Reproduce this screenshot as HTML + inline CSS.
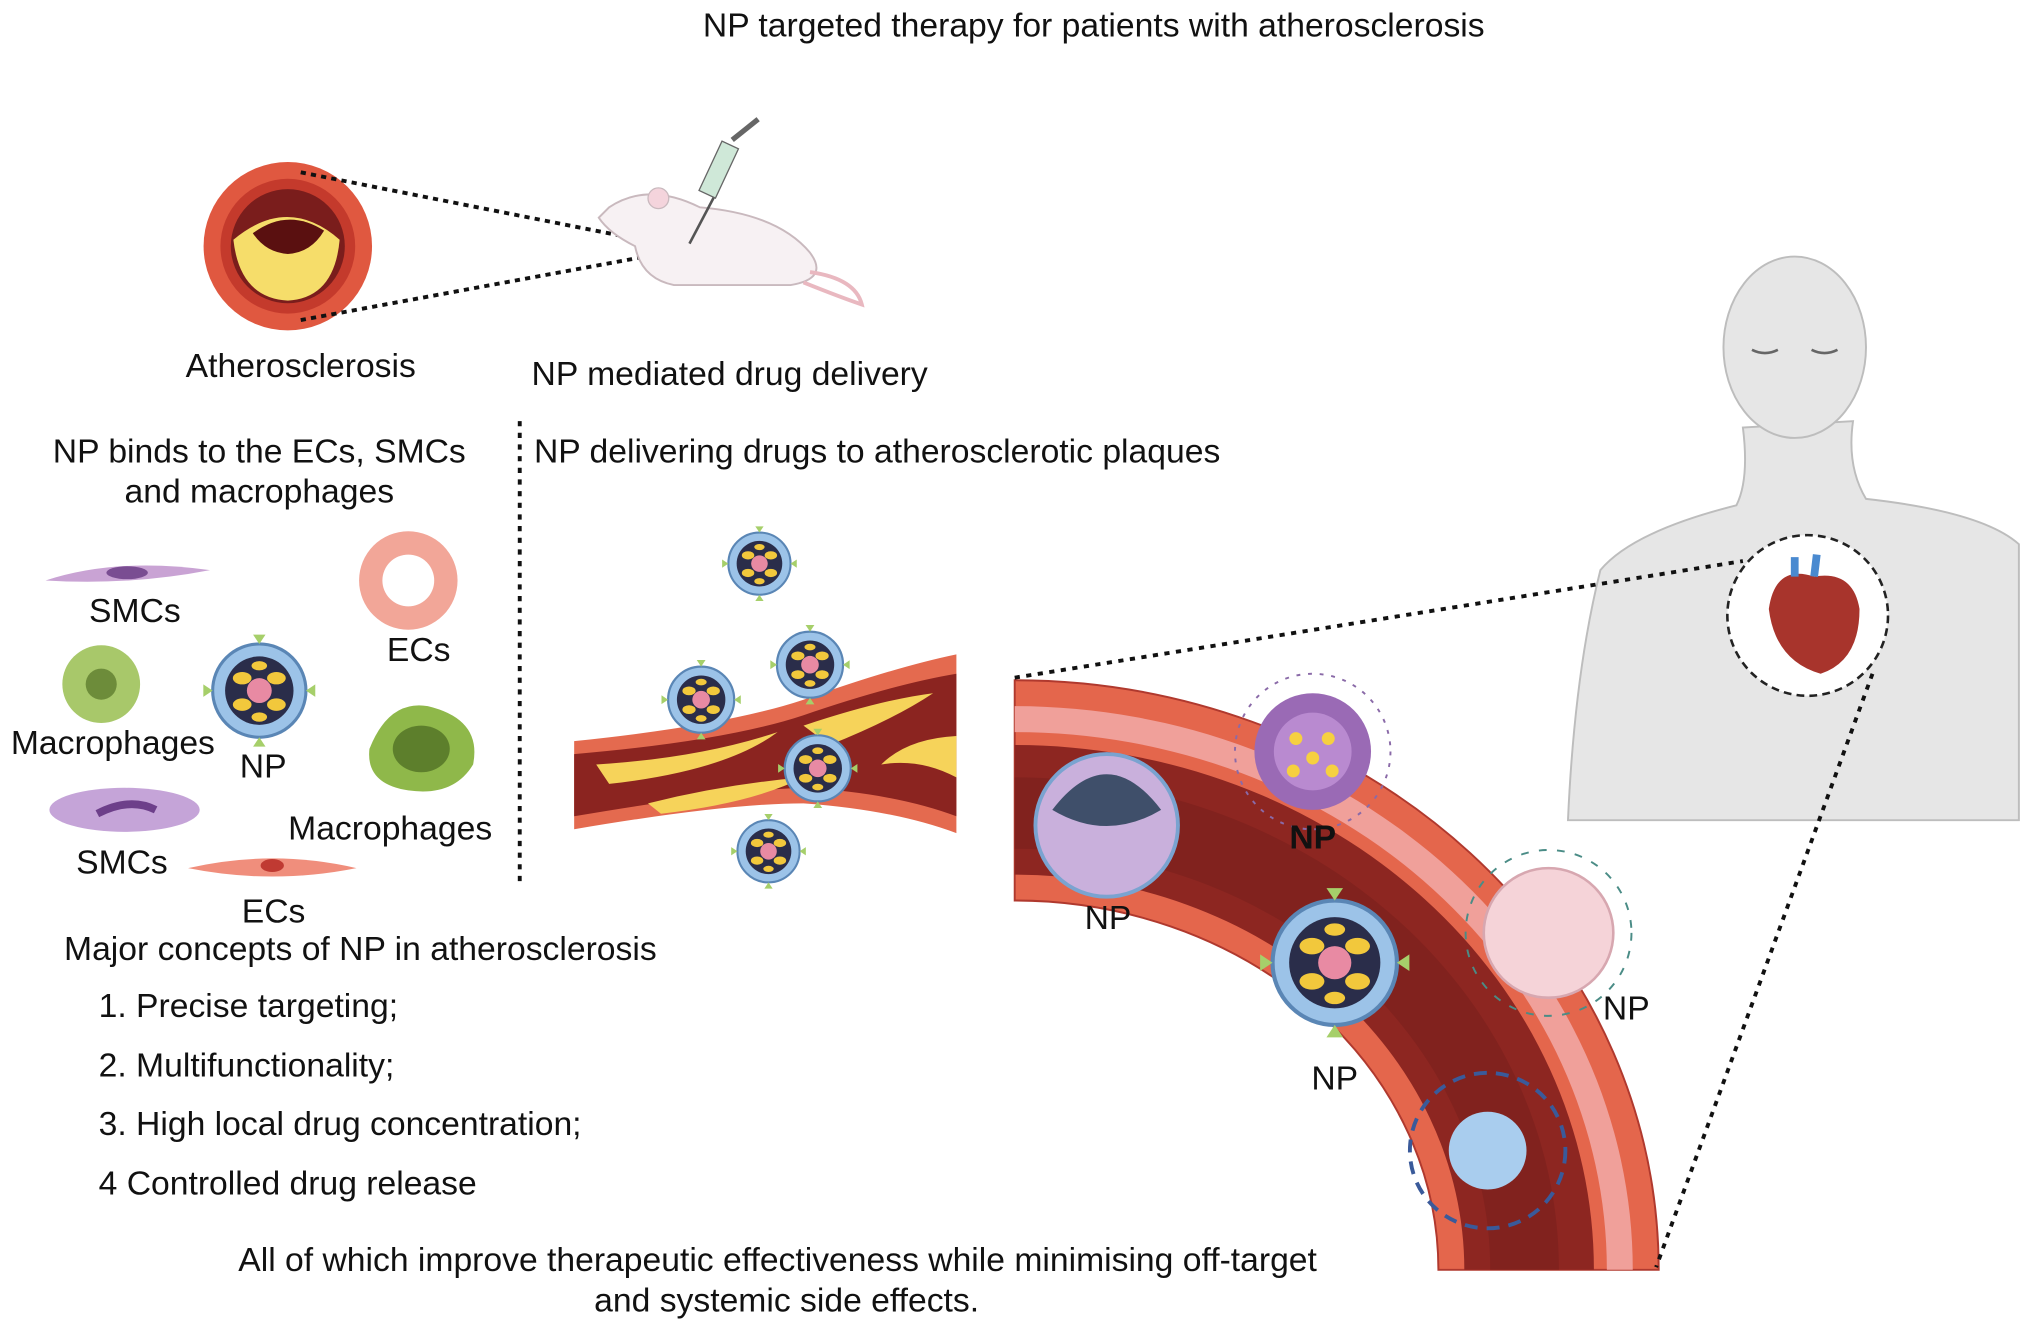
<!DOCTYPE html>
<html><head><meta charset="utf-8"><style>
html,body{margin:0;padding:0;background:#fff;}
svg{display:block;}
text{font-family:"Liberation Sans",Arial,sans-serif;fill:#111;}
</style></head><body>
<svg width="2032" height="1332" viewBox="0 0 1568 1028" xmlns="http://www.w3.org/2000/svg">
<defs>
<g id="np">
 <circle r="30" fill="#9cc3e8" stroke="#5a86b5" stroke-width="2"/>
 <circle r="22" fill="#2a2d4a"/>
 <ellipse cx="-11" cy="-8" rx="6" ry="4" fill="#f2c83c"/>
 <ellipse cx="11" cy="-8" rx="6" ry="4" fill="#f2c83c"/>
 <ellipse cx="-11" cy="9" rx="6" ry="4" fill="#f2c83c"/>
 <ellipse cx="11" cy="9" rx="6" ry="4" fill="#f2c83c"/>
 <ellipse cx="0" cy="-16" rx="5" ry="3" fill="#f2c83c"/>
 <ellipse cx="0" cy="17" rx="5" ry="3" fill="#f2c83c"/>
 <circle r="8" fill="#e88aa3"/>
 <path d="M-30 0l-6 -4v8zM30 0l6 -4v8zM0 -30l-4 -6h8zM0 30l-4 6h8z" fill="#a6cf6a"/>
</g>
</defs>

<text x="844" y="28" text-anchor="middle" font-size="26">NP targeted therapy for patients with atherosclerosis</text>

<circle cx="222" cy="190" r="65" fill="#e05840"/>
<circle cx="222" cy="190" r="52" fill="#c43a2c"/>
<circle cx="222" cy="190" r="44" fill="#7a1d1c"/>
<path d="M180 185 Q222 150 262 185 Q258 230 222 232 Q185 230 180 185Z" fill="#f6dd6a"/>
<path d="M195 180 Q222 160 250 178 Q240 195 222 196 Q205 195 195 180Z" fill="#5a1010"/>
<line x1="232" y1="133" x2="520" y2="190" stroke="#111" stroke-width="3" stroke-dasharray="4,4"/>
<line x1="232" y1="247" x2="520" y2="194" stroke="#111" stroke-width="3" stroke-dasharray="4,4"/>

<path d="M470 160 Q500 140 540 160 Q600 165 625 195 Q640 215 610 220 L520 220 Q495 215 490 190 Q470 180 462 168Z" fill="#f7f1f3" stroke="#c9b9be" stroke-width="1.5"/>
<circle cx="508" cy="153" r="8" fill="#f4d4dc" stroke="#c9b9be"/>
<path d="M625 210 Q660 215 665 235 Q650 230 620 218" fill="none" stroke="#e9b8c0" stroke-width="3"/>
<line x1="532" y1="188" x2="552" y2="150" stroke="#555" stroke-width="2"/>
<rect x="548" y="110" width="14" height="42" fill="#cfe8d8" stroke="#666" transform="rotate(25 555 130)"/>
<line x1="565" y1="108" x2="585" y2="92" stroke="#666" stroke-width="4"/>

<text x="232" y="291" text-anchor="middle" font-size="26">Atherosclerosis</text>
<text x="563" y="297" text-anchor="middle" font-size="26">NP mediated drug delivery</text>

<line x1="401" y1="325" x2="401" y2="685" stroke="#111" stroke-width="3" stroke-dasharray="4,5"/>
<text x="200" y="357" text-anchor="middle" font-size="26">NP binds to the ECs, SMCs</text>
<text x="200" y="388" text-anchor="middle" font-size="26">and macrophages</text>
<text x="412" y="357" font-size="26">NP delivering drugs to atherosclerotic plaques</text>

<path d="M35 448 Q90 430 162 440 Q100 452 35 448Z" fill="#c9a3d4"/>
<ellipse cx="98" cy="442" rx="16" ry="5" fill="#7a4d92"/>
<text x="104" y="480" text-anchor="middle" font-size="26">SMCs</text>
<circle cx="315" cy="448" r="38" fill="#f2a698"/>
<circle cx="315" cy="448" r="20" fill="#fff"/>
<text x="323" y="510" text-anchor="middle" font-size="26">ECs</text>
<circle cx="78" cy="528" r="30" fill="#a8c86a"/>
<circle cx="78" cy="528" r="12" fill="#6d8c3a"/>
<text x="87" y="582" text-anchor="middle" font-size="26">Macrophages</text>
<g transform="translate(200 533) scale(1.2)"><use href="#np"/></g>
<text x="203" y="600" text-anchor="middle" font-size="26">NP</text>
<path d="M285 578 Q300 540 330 545 Q372 555 365 590 Q350 615 315 610 Q282 605 285 578Z" fill="#8fb84a"/>
<ellipse cx="325" cy="578" rx="22" ry="18" fill="#5d7f2c"/>
<text x="301" y="648" text-anchor="middle" font-size="26">Macrophages</text>
<ellipse cx="96" cy="625" rx="58" ry="17" fill="#c5a4d8"/>
<path d="M75 628 Q100 615 120 625" stroke="#6d3f8a" stroke-width="6" fill="none"/>
<text x="94" y="674" text-anchor="middle" font-size="26">SMCs</text>
<path d="M145 670 Q210 655 275 670 Q210 683 145 670Z" fill="#f08e7c"/>
<ellipse cx="210" cy="668" rx="9" ry="5" fill="#c03a32"/>
<text x="211" y="712" text-anchor="middle" font-size="26">ECs</text>

<path d="M443 572 Q560 560 620 540 Q690 515 738 505 L738 643 Q690 625 620 620 Q560 620 443 640Z" fill="#e46a4f"/>
<path d="M443 582 Q560 572 620 552 Q690 528 738 520 L738 630 Q690 612 620 608 Q560 610 443 630Z" fill="#8b2420"/>
<path d="M460 590 Q540 585 600 565 Q560 595 470 605Z" fill="#f6d35a"/>
<path d="M620 560 Q680 540 720 535 Q690 555 640 575Z" fill="#f6d35a"/>
<path d="M500 620 Q560 605 620 600 Q580 620 510 628Z" fill="#f6d35a"/>
<path d="M680 590 Q700 570 738 568 L738 600 Q710 585 680 590Z" fill="#f6d35a"/>
<g transform="translate(586 435) scale(0.8)"><use href="#np"/></g>
<g transform="translate(625 513) scale(0.85)"><use href="#np"/></g>
<g transform="translate(541 540) scale(0.85)"><use href="#np"/></g>
<g transform="translate(631 593) scale(0.85)"><use href="#np"/></g>
<g transform="translate(593 657) scale(0.8)"><use href="#np"/></g>

<text x="278" y="741" text-anchor="middle" font-size="26">Major concepts of NP in atherosclerosis</text>
<text x="76" y="785" font-size="26">1. Precise targeting;</text>
<text x="76" y="831" font-size="26">2. Multifunctionality;</text>
<text x="76" y="876" font-size="26">3. High local drug concentration;</text>
<text x="76" y="922" font-size="26">4 Controlled drug release</text>
<text x="600" y="981" text-anchor="middle" font-size="26">All of which improve therapeutic effectiveness while minimising off-target</text>
<text x="607" y="1012" text-anchor="middle" font-size="26">and systemic side effects.</text>

<path d="M783 525 A497 455 0 0 1 1280 980 L1110 980 A327 285 0 0 0 783 695Z" fill="#e4664c" stroke="#b0392e" stroke-width="1.5"/>
<path d="M783 545 A477 435 0 0 1 1260 980 L1240 980 A457 415 0 0 0 783 565Z" fill="#f0a09a"/>
<path d="M783 575 A447 405 0 0 1 1230 980 L1130 980 A347 305 0 0 0 783 675Z" fill="#8d2621"/>
<path d="M783 600 A420 380 0 0 1 1203 980 L1150 980 A367 325 0 0 0 783 655Z" fill="#7a1f1c" opacity="0.6"/>

<circle cx="854" cy="637" r="55" fill="#c9b0dc" stroke="#7aa3d0" stroke-width="3"/>
<path d="M812 625 Q854 570 896 625 Q854 650 812 625Z" fill="#3f4f6a"/>
<text x="855" y="717" text-anchor="middle" font-size="26">NP</text>
<circle cx="1013" cy="580" r="60" fill="none" stroke="#8a6aa8" stroke-width="1.5" stroke-dasharray="3,6"/>
<circle cx="1013" cy="580" r="45" fill="#9a6ab5"/>
<circle cx="1013" cy="580" r="30" fill="#b98ad0"/>
<circle cx="1000" cy="570" r="5" fill="#f6d040"/><circle cx="1025" cy="570" r="5" fill="#f6d040"/>
<circle cx="1013" cy="585" r="5" fill="#f6d040"/><circle cx="998" cy="595" r="5" fill="#f6d040"/><circle cx="1028" cy="595" r="5" fill="#f6d040"/>
<text x="1013" y="655" text-anchor="middle" font-size="26" font-weight="bold">NP</text>
<g transform="translate(1030 743) scale(1.6)"><use href="#np"/></g>
<text x="1030" y="841" text-anchor="middle" font-size="26">NP</text>
<circle cx="1195" cy="720" r="50" fill="#f5d3d8" stroke="#d7a7b0" stroke-width="2"/>
<circle cx="1195" cy="720" r="64" fill="none" stroke="#4a8c86" stroke-width="1.5" stroke-dasharray="6,8"/>
<text x="1255" y="787" text-anchor="middle" font-size="26">NP</text>
<circle cx="1148" cy="888" r="60" fill="none" stroke="#3a5a9a" stroke-width="3" stroke-dasharray="10,7"/>
<circle cx="1148" cy="888" r="30" fill="#a9cdee"/>

<path d="M1345 330 Q1350 370 1340 390 Q1260 410 1235 440 Q1215 520 1210 633 L1558 633 L1558 420 Q1530 395 1440 385 Q1425 360 1430 325Z" fill="#e6e6e6" stroke="#bdbdbd" stroke-width="1.5"/>
<ellipse cx="1385" cy="268" rx="55" ry="70" fill="#e6e6e6" stroke="#bdbdbd" stroke-width="1.5"/>
<path d="M1352 270 q10 5 20 0 M1398 270 q10 5 20 0" stroke="#666" stroke-width="2" fill="none"/>
<circle cx="1395" cy="475" r="62" fill="#fff" stroke="#222" stroke-width="2" stroke-dasharray="6,4"/>
<path d="M1365 470 Q1370 435 1400 445 Q1430 440 1435 470 Q1435 510 1405 520 Q1370 510 1365 470Z" fill="#a8342c"/>
<path d="M1385 445 L1385 430 M1400 445 L1402 428" stroke="#4a8ad0" stroke-width="6"/>
<line x1="783" y1="523" x2="1345" y2="433" stroke="#111" stroke-width="3" stroke-dasharray="4,5"/>
<line x1="1445" y1="520" x2="1278" y2="978" stroke="#111" stroke-width="3" stroke-dasharray="4,5"/>
</svg>
</body></html>
